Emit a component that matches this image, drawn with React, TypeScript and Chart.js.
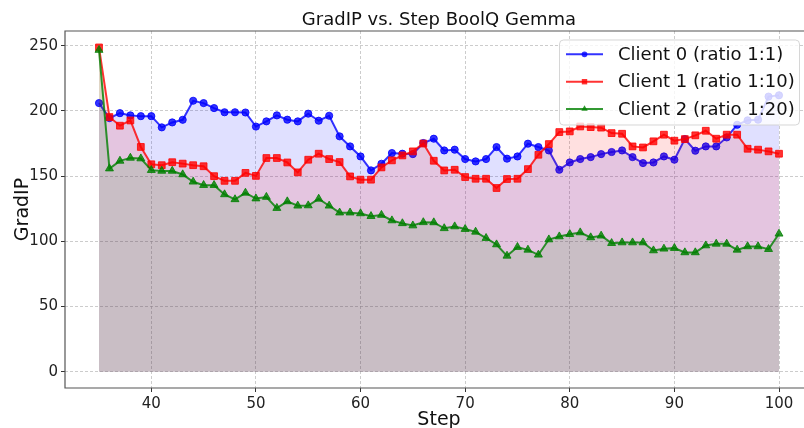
import React, { useEffect, useRef } from "react";
import { Chart, registerables } from "chart.js";

Chart.register(...registerables);

const steps = [
  35, 36, 37, 38, 39, 40, 41, 42, 43, 44, 45, 46, 47, 48, 49, 50, 51, 52, 53, 54, 55, 56,
  57, 58, 59, 60, 61, 62, 63, 64, 65, 66, 67, 68, 69, 70, 71, 72, 73, 74, 75, 76, 77, 78,
  79, 80, 81, 82, 83, 84, 85, 86, 87, 88, 89, 90, 91, 92, 93, 94, 95, 96, 97, 98, 99, 100,
];

const client0 = [
  206, 194.5, 198.3, 196.6, 196, 196, 187.4, 191.2, 193.2, 207.8, 206, 202.2, 199, 199, 198.8, 188,
  192, 196.6, 193.3, 192, 197.9, 192.5, 196.3, 180.5, 172.8, 165.1, 154.4, 159.5, 167.7, 167.2, 166.9, 175.4,
  178.7, 169.7, 170.3, 163.1, 161.3, 163.1, 172.3, 163.4, 165.1, 174.9, 172.3, 169.7, 154.9, 160.5, 163.1, 164.6,
  166.9, 168.5, 169.7, 164.6, 160, 160.5, 165.1, 162.6, 178.4, 169.5, 172.8, 172.8, 179.7, 189.4, 192.8, 193.3,
  211, 212,
];

const client1 = [
  248.7, 195.3, 188.7, 192.7, 172.4, 159.1, 158.4, 160.7, 159.6, 158.4, 157.6, 150, 146.4, 146.4, 152.5, 150.2,
  163.9, 163.9, 160.5, 152.9, 162.6, 167.2, 163.1, 160.8, 149.8, 147.3, 147.3, 156.7, 162.1, 165.9, 169, 175,
  161.8, 154.4, 154.9, 149.3, 148, 148, 140.9, 147.8, 148, 155.4, 166.4, 174.6, 183.8, 184.3, 188.1, 187.6,
  187.2, 183, 182.5, 172.8, 172, 176.7, 181.8, 177.2, 178.4, 181.3, 184.8, 178.7, 181.8, 181.8, 171, 170.3,
  169, 167.2,
];

const client2 = [
  246.7, 155.8, 161.7, 164, 163.5, 154.6, 154, 154, 151.3, 145.7, 143.1, 143.1, 136, 132.2, 137.2, 132.8,
  134, 125.5, 130.6, 127.3, 127.5, 132.6, 127.3, 122, 122, 121.4, 119.3, 120.2, 116, 113.8, 112.1, 114.6,
  114.5, 110, 111.4, 109.4, 107.3, 102.5, 97.6, 88.9, 95.6, 93.5, 89.7, 101.4, 103.7, 105.5, 106.8, 103,
  104.3, 98.6, 99.1, 99.1, 99.1, 93, 94.3, 94.8, 91.5, 91.5, 96.8, 98.1, 98.1, 93.5, 96.1, 96.1,
  94, 105.8,
];

const seriesLabels = ["Client 0 (ratio 1:1)", "Client 1 (ratio 1:10)", "Client 2 (ratio 1:20)"];
const xTicks = [40, 50, 60, 70, 80, 90, 100];
const yTicks = [0, 50, 100, 150, 200, 250];
const titleText = "GradIP vs. Step BoolQ Gemma";
const xLabel = "Step";
const yLabel = "GradIP";

const W = 840;
const H = 428;
const AREA = { left: 65, top: 31, right: 813, bottom: 388 };
const FONT = "'DejaVu Sans', sans-serif";

const lineColors = ["rgba(0,0,255,0.8)", "rgba(255,0,0,0.8)", "rgba(0,128,0,0.8)"];
const fillColors = ["rgba(0,0,255,0.12)", "rgba(255,0,0,0.12)", "rgba(0,128,0,0.12)"];
const pointStyles = ["circle", "rect", "triangle"];
const pointRadii = [3.6, 4.8, 4.6];

function drawMarker(ctx: CanvasRenderingContext2D, style: string, x: number, y: number, r: number, color: string) {
  ctx.save();
  ctx.fillStyle = color;
  ctx.beginPath();
  if (style === "circle") {
    ctx.arc(x, y, r, 0, Math.PI * 2);
  } else if (style === "rect") {
    const s = r * Math.SQRT1_2;
    ctx.rect(x - s, y - s, 2 * s, 2 * s);
  } else {
    ctx.moveTo(x, y - r);
    ctx.lineTo(x - r * Math.sin(Math.PI / 3), y + r * 0.5);
    ctx.lineTo(x + r * Math.sin(Math.PI / 3), y + r * 0.5);
    ctx.closePath();
  }
  ctx.fill();
  ctx.restore();
}

const decorPlugin = {
  id: "decor",
  afterDraw(chart: any) {
    const ctx: CanvasRenderingContext2D = chart.ctx;
    const ca = chart.chartArea;
    ctx.save();
    ctx.strokeStyle = "#555";
    ctx.lineWidth = 1.2;
    ctx.beginPath();
    ctx.moveTo(ca.right + 20, ca.top);
    ctx.lineTo(ca.left, ca.top);
    ctx.lineTo(ca.left, ca.bottom);
    ctx.lineTo(ca.right + 20, ca.bottom);
    ctx.stroke();

    ctx.fillStyle = "#111";
    ctx.font = `18px ${FONT}`;
    ctx.textAlign = "center";
    ctx.textBaseline = "alphabetic";
    ctx.fillText(titleText, (ca.left + ca.right) / 2, 25);

    ctx.font = `19px ${FONT}`;
    ctx.fillText(xLabel, (ca.left + ca.right) / 2, 425);

    ctx.save();
    ctx.translate(28, (ca.top + ca.bottom) / 2);
    ctx.rotate(-Math.PI / 2);
    ctx.fillText(yLabel, 0, 0);
    ctx.restore();

    const lx = 559.5, ly = 40, lw = 240, lh = 85, rr = 4;
    ctx.beginPath();
    ctx.moveTo(lx + rr, ly);
    ctx.lineTo(lx + lw - rr, ly);
    ctx.quadraticCurveTo(lx + lw, ly, lx + lw, ly + rr);
    ctx.lineTo(lx + lw, ly + lh - rr);
    ctx.quadraticCurveTo(lx + lw, ly + lh, lx + lw - rr, ly + lh);
    ctx.lineTo(lx + rr, ly + lh);
    ctx.quadraticCurveTo(lx, ly + lh, lx, ly + lh - rr);
    ctx.lineTo(lx, ly + rr);
    ctx.quadraticCurveTo(lx, ly, lx + rr, ly);
    ctx.closePath();
    ctx.fillStyle = "rgba(255,255,255,0.8)";
    ctx.fill();
    ctx.strokeStyle = "rgba(204,204,204,0.8)";
    ctx.lineWidth = 1;
    ctx.stroke();

    const rowsY = [54.3, 81.7, 109];
    seriesLabels.forEach((label, i) => {
      const y = rowsY[i];
      ctx.strokeStyle = lineColors[i];
      ctx.lineWidth = 2;
      ctx.beginPath();
      ctx.moveTo(566, y);
      ctx.lineTo(603, y);
      ctx.stroke();
      drawMarker(ctx, pointStyles[i], 584.5, y, pointRadii[i] * 0.8, lineColors[i]);
      ctx.fillStyle = "#111";
      ctx.font = `18px ${FONT}`;
      ctx.textAlign = "left";
      ctx.textBaseline = "middle";
      ctx.fillText(label, 618, y + 1);
    });
    ctx.restore();
  },
};

export default function App() {
  const canvasRef = useRef<HTMLCanvasElement | null>(null);

  useEffect(() => {
    const canvas = canvasRef.current;
    if (!canvas) return;
    const seriesValues = [client0, client1, client2];
    const datasets = seriesValues.map((vals, i) => ({
      label: seriesLabels[i],
      data: steps.map((s, j) => ({ x: s, y: vals[j] })),
      borderColor: lineColors[i],
      backgroundColor: fillColors[i],
      pointBackgroundColor: lineColors[i],
      pointBorderColor: lineColors[i],
      pointBorderWidth: 1,
      pointStyle: pointStyles[i],
      pointRadius: pointRadii[i],
      borderWidth: 2,
      fill: "origin",
      tension: 0,
      order: 3 - i,
    }));

    const tickFont = { family: FONT, size: 15 };
    const chart = new Chart(canvas, {
      type: "line",
      data: { datasets },
      plugins: [decorPlugin],
      options: {
        animation: false,
        responsive: false,
        devicePixelRatio: 1,
        events: [],
        layout: { padding: { left: 0, top: AREA.top, right: W - AREA.right, bottom: 0 } },
        plugins: {
          legend: { display: false },
          title: { display: false },
          tooltip: { enabled: false },
          filler: { propagate: false },
        },
        scales: {
          x: {
            type: "linear",
            min: 31.75,
            max: 103.25,
            afterBuildTicks: (scale: any) => {
              scale.ticks = xTicks.map((v) => ({ value: v }));
            },
            afterFit: (scale: any) => {
              scale.height = H - AREA.bottom;
            },
            ticks: { color: "#222", font: tickFont, padding: 3, maxRotation: 0, callback: (v: any) => String(v) },
            grid: { color: "rgba(176,176,176,0.65)", lineWidth: 1, drawTicks: true, tickLength: 4, tickColor: "#333", tickWidth: 1 },
            border: { display: false, dash: [3, 2] },
          },
          y: {
            type: "linear",
            min: -12.45,
            max: 261.3,
            afterBuildTicks: (scale: any) => {
              scale.ticks = yTicks.map((v) => ({ value: v }));
            },
            afterFit: (scale: any) => {
              scale.width = AREA.left;
            },
            ticks: { color: "#222", font: tickFont, padding: 3, callback: (v: any) => String(v) },
            grid: { color: "rgba(176,176,176,0.65)", lineWidth: 1, drawTicks: true, tickLength: 4, tickColor: "#333", tickWidth: 1 },
            border: { display: false, dash: [3, 2] },
          },
        },
      } as any,
    });
    return () => chart.destroy();
  }, []);

  return (
    <div style={{ position: "fixed", left: 0, top: 0, width: 804, height: 428, overflow: "hidden", background: "#fff" }}>
      <canvas ref={canvasRef} width={W} height={H} style={{ display: "block", width: W, height: H }} />
    </div>
  );
}
